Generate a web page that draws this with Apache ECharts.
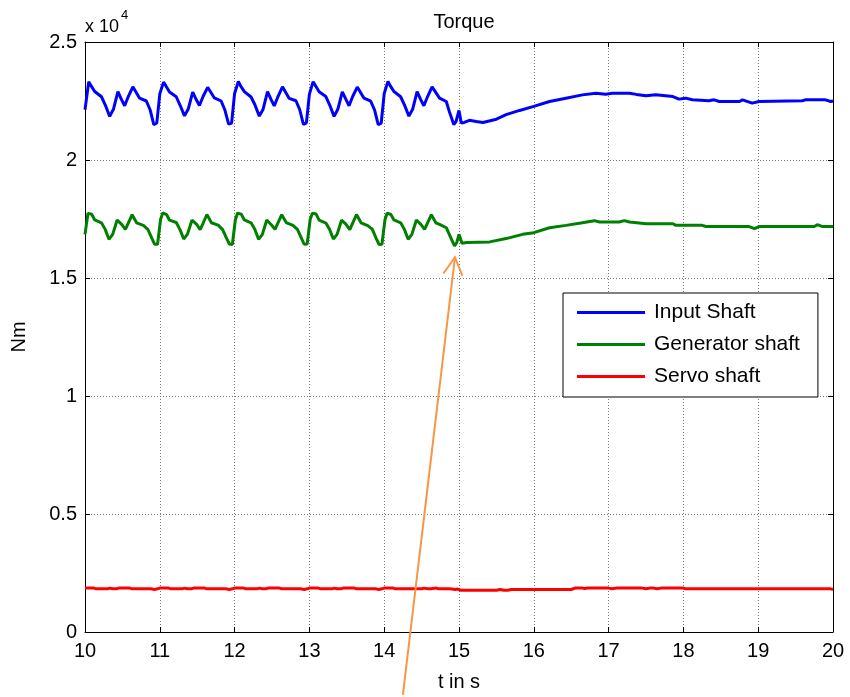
<!DOCTYPE html>
<html>
<head>
<meta charset="utf-8">
<script src="https://cdn.jsdelivr.net/npm/echarts@6/dist/echarts.min.js"></script>
<style>
html,body{margin:0;padding:0;background:#fff;}
#chart{width:850px;height:697px;}
</style>
</head>
<body>
<div id="chart"></div>
<script>
var titleText = 'Torque';
var xName = 't in s';
var yName = 'Nm';
var seriesNames = ['Input Shaft', 'Generator shaft', 'Servo shaft'];
var xTicks = [10, 11, 12, 13, 14, 15, 16, 17, 18, 19, 20];
var yTicks = [0, 5000, 10000, 15000, 20000, 25000];

var inputShaftT = [
10.00,10.05,10.08,10.13,10.22,10.27,10.33,10.38,10.44,10.49,10.53,10.58,10.64,10.73,10.82,10.87,10.92,10.96,
11.00,11.05,11.08,11.13,11.22,11.27,11.33,11.38,11.44,11.49,11.53,11.58,11.64,11.73,11.82,11.87,11.92,11.96,
12.00,12.05,12.08,12.13,12.22,12.27,12.33,12.38,12.44,12.49,12.53,12.58,12.64,12.73,12.82,12.87,12.92,12.96,
13.00,13.05,13.08,13.13,13.22,13.27,13.33,13.38,13.44,13.49,13.53,13.58,13.64,13.73,13.82,13.87,13.92,13.96,
14.00,14.05,14.08,14.13,14.22,14.27,14.33,14.38,14.44,14.49,14.53,14.58,14.64,14.74,14.83,14.87,14.93,14.96,
15.00,15.03,15.07,15.14,15.23,15.32,15.50,15.63,15.81,16.00,16.21,16.43,16.65,16.83,16.96,17.05,17.28,17.37,
17.50,17.63,17.86,17.94,18.03,18.12,18.34,18.41,18.48,18.75,18.79,18.92,19.01,19.59,19.63,19.90,19.97,20.00];
var inputShaftV = [
22130,23320,23150,22900,22680,22340,21850,22150,22900,22550,22300,22700,23100,22620,22500,22130,21500,21570,
22800,23300,23150,22880,22680,22330,21870,22160,22880,22540,22310,22700,23080,22630,22500,22120,21520,21560,
22820,23330,23140,22900,22670,22350,21860,22140,22900,22550,22290,22690,23100,22610,22510,22140,21510,21570,
22790,23320,23160,22890,22690,22340,21850,22150,22890,22560,22300,22700,23090,22620,22490,22130,21500,21560,
22810,23330,23150,22900,22680,22340,21860,22150,22900,22550,22300,22690,23100,22620,22480,22060,21500,21630,
22100,21570,21590,21680,21630,21590,21730,21920,22100,22270,22480,22620,22760,22830,22790,22830,22830,22780,
22720,22760,22690,22580,22620,22550,22510,22550,22480,22480,22550,22410,22480,22510,22550,22550,22480,22500];

var generatorShaftT = [
10.00,10.04,10.09,10.13,10.22,10.27,10.32,10.37,10.43,10.49,10.54,10.58,10.63,10.69,10.78,10.84,10.89,10.93,10.97,
11.01,11.04,11.09,11.13,11.22,11.27,11.32,11.37,11.43,11.49,11.54,11.58,11.63,11.69,11.78,11.84,11.89,11.93,11.97,
12.01,12.04,12.09,12.13,12.22,12.27,12.32,12.37,12.43,12.49,12.54,12.58,12.63,12.69,12.78,12.84,12.89,12.93,12.97,
13.01,13.04,13.09,13.13,13.22,13.27,13.32,13.37,13.43,13.49,13.54,13.58,13.63,13.69,13.78,13.84,13.89,13.93,13.97,
14.01,14.04,14.09,14.13,14.22,14.27,14.32,14.37,14.43,14.49,14.54,14.58,14.63,14.69,14.74,14.83,14.90,14.94,14.97,
15.00,15.04,15.10,15.41,15.63,15.85,16.00,16.21,16.43,16.65,16.81,16.88,17.14,17.21,17.28,17.50,17.86,17.90,
18.25,18.30,18.88,18.95,19.01,19.75,19.79,19.86,20.00];
var generatorShaftV = [
16850,17740,17700,17460,17340,17060,16640,16850,17460,17270,17060,17340,17680,17340,17230,17060,16710,16430,16430,
17480,17760,17690,17450,17350,17050,16650,16860,17450,17280,17050,17330,17690,17340,17240,17050,16700,16440,16420,
17470,17750,17700,17460,17340,17070,16640,16840,17460,17260,17060,17340,17680,17350,17230,17060,16710,16430,16440,
17480,17740,17710,17450,17330,17060,16650,16850,17450,17270,17050,17340,17690,17340,17220,17070,16700,16420,16430,
17470,17750,17690,17460,17340,17060,16640,16850,17460,17270,17060,17340,17680,17340,17270,17130,16640,16360,16500,
16850,16470,16500,16530,16670,16850,16920,17130,17230,17340,17430,17370,17370,17430,17370,17300,17300,17230,
17230,17180,17180,17090,17180,17180,17260,17180,17180];

var servoShaftT = [
10.00,10.12,10.15,10.30,10.33,10.37,10.42,10.45,10.60,10.63,10.88,10.93,10.97,
11.00,11.12,11.15,11.30,11.33,11.37,11.42,11.45,11.60,11.63,11.88,11.93,11.97,
12.00,12.12,12.15,12.30,12.33,12.37,12.42,12.45,12.60,12.63,12.88,12.93,12.97,
13.00,13.12,13.15,13.30,13.33,13.37,13.42,13.45,13.60,13.63,13.88,13.93,13.97,
14.00,14.12,14.15,14.30,14.50,14.53,14.58,14.62,14.70,14.73,14.88,14.95,14.98,
15.02,15.50,15.55,15.60,15.65,15.70,16.50,16.55,16.65,16.68,16.72,17.00,17.05,17.10,
17.45,17.50,17.55,17.60,17.65,17.70,18.00,18.03,19.97,20.00];
var servoShaftV = [
1860,1860,1830,1830,1860,1830,1830,1860,1860,1830,1830,1800,1830,
1860,1860,1830,1830,1860,1830,1830,1860,1860,1830,1830,1800,1830,
1860,1860,1830,1830,1860,1830,1830,1860,1860,1830,1830,1800,1830,
1860,1860,1830,1830,1860,1830,1830,1860,1860,1830,1830,1800,1830,
1860,1860,1830,1830,1830,1860,1830,1830,1860,1830,1830,1800,1820,
1770,1770,1800,1770,1770,1800,1800,1860,1860,1840,1860,1860,1830,1860,
1860,1830,1860,1860,1830,1860,1860,1830,1830,1800];

var arrowFrom = [14.25, -2660];
var arrowTo = [14.946, 15880];

function pairs(t, v) {
  var out = [];
  for (var i = 0; i < t.length; i++) out.push([t[i], v[i]]);
  return out;
}

var FONT = 'Liberation Sans, Arial, sans-serif';
var chart = echarts.init(document.getElementById('chart'), null, {renderer: 'canvas'});

var option = {
  animation: false,
  backgroundColor: '#ffffff',
  textStyle: {fontFamily: FONT},
  title: {
    text: titleText, left: 459, top: 7, textAlign: 'center',
    textStyle: {fontFamily: FONT, fontSize: 20, fontWeight: 'normal', color: '#000'}
  },
  grid: {left: 85, right: 17, top: 42, bottom: 63},
  legend: {
    data: seriesNames,
    orient: 'vertical',
    left: 563, top: 293,
    backgroundColor: '#ffffff',
    borderColor: '#000', borderWidth: 1, borderRadius: 0,
    padding: [9, 18, 10, 14],
    itemGap: 11,
    itemWidth: 68, itemHeight: 3,
    icon: 'rect',
    textStyle: {fontFamily: FONT, fontSize: 21, color: '#000', padding: [0, 0, 0, 4]}
  },
  xAxis: [{
    type: 'value', min: xTicks[0], max: xTicks[xTicks.length - 1], interval: 1,
    name: xName, nameLocation: 'middle', nameGap: 40,
    nameTextStyle: {fontFamily: FONT, fontSize: 20, color: '#000'},
    axisLine: {show: true, onZero: false, lineStyle: {color: '#000', width: 1}},
    axisTick: {show: true, inside: true, length: 5, lineStyle: {color: '#000'}},
    axisLabel: {fontFamily: FONT, fontSize: 20, color: '#000', margin: 9},
    splitLine: {show: true, lineStyle: {color: '#777', type: [1, 2], width: 1}}
  }, {
    type: 'value', position: 'top', min: xTicks[0], max: xTicks[xTicks.length - 1], interval: 1,
    axisLine: {show: true, onZero: false, lineStyle: {color: '#000', width: 1}},
    axisTick: {show: true, inside: true, length: 5, lineStyle: {color: '#000'}},
    axisLabel: {show: false}, splitLine: {show: false}
  }],
  yAxis: [{
    type: 'value', min: yTicks[0], max: yTicks[yTicks.length - 1], interval: 5000,
    name: yName, nameLocation: 'middle', nameGap: 56,
    nameTextStyle: {fontFamily: FONT, fontSize: 20, color: '#000'},
    axisLine: {show: true, onZero: false, lineStyle: {color: '#000', width: 1}},
    axisTick: {show: true, inside: true, length: 5, lineStyle: {color: '#000'}},
    axisLabel: {fontFamily: FONT, fontSize: 20, color: '#000', margin: 8,
      formatter: function (v) { return String(v / 10000); }},
    splitLine: {show: true, lineStyle: {color: '#777', type: [1, 2], width: 1}}
  }, {
    type: 'value', position: 'right', min: yTicks[0], max: yTicks[yTicks.length - 1], interval: 5000,
    axisLine: {show: true, onZero: false, lineStyle: {color: '#000', width: 1}},
    axisTick: {show: true, inside: true, length: 5, lineStyle: {color: '#000'}},
    axisLabel: {show: false}, splitLine: {show: false}
  }],
  graphic: [
    {type: 'text', left: 85, top: 18, style: {text: 'x 10', font: '18px ' + FONT, fill: '#000'}},
    {type: 'text', left: 121, top: 9, style: {text: '4', font: '13px ' + FONT, fill: '#000'}}
  ],
  series: [
    {name: seriesNames[0], type: 'line', data: pairs(inputShaftT, inputShaftV), showSymbol: false, symbol: 'none',
     lineStyle: {color: '#0000ff', width: 3}, itemStyle: {color: '#0000ff'}},
    {name: seriesNames[1], type: 'line', data: pairs(generatorShaftT, generatorShaftV), showSymbol: false, symbol: 'none',
     lineStyle: {color: '#008000', width: 3}, itemStyle: {color: '#008000'}},
    {name: seriesNames[2], type: 'line', data: pairs(servoShaftT, servoShaftV), showSymbol: false, symbol: 'none',
     lineStyle: {color: '#ff0000', width: 3}, itemStyle: {color: '#ff0000'}}
  ]
};
chart.setOption(option);

// Annotation arrow, positioned through the chart's own axes
var p0 = chart.convertToPixel({gridIndex: 0}, arrowFrom);
var p1 = chart.convertToPixel({gridIndex: 0}, arrowTo);
var dx = p0[0] - p1[0], dy = p0[1] - p1[1];
var len = Math.sqrt(dx * dx + dy * dy);
var ux = dx / len, uy = dy / len;
var headLen = 20, spread = 0.5;
function rot(ang) {
  var c = Math.cos(ang), s = Math.sin(ang);
  return [p1[0] + headLen * (ux * c - uy * s), p1[1] + headLen * (ux * s + uy * c)];
}
var armA = rot(spread), armB = rot(-spread);
chart.setOption({
  graphic: [
    {type: 'text', left: 85, top: 18, style: {text: 'x 10', font: '18px ' + FONT, fill: '#000'}},
    {type: 'text', left: 121, top: 9, style: {text: '4', font: '13px ' + FONT, fill: '#000'}},
    {type: 'line', z: 100, silent: true, shape: {x1: p0[0], y1: p0[1], x2: p1[0], y2: p1[1]},
     style: {stroke: '#f79646', lineWidth: 2}},
    {type: 'polyline', z: 100, silent: true, shape: {points: [armA, p1, armB]},
     style: {stroke: '#f79646', lineWidth: 2, fill: null, lineJoin: 'miter'}}
  ]
}, {replaceMerge: ['graphic']});
</script>
</body>
</html>
